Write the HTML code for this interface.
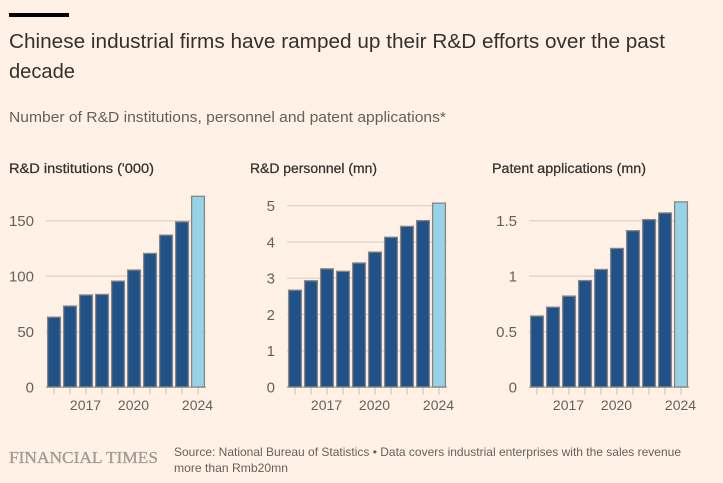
<!DOCTYPE html>
<html lang="en">
<head>
<meta charset="utf-8">
<title>Chinese industrial firms R&amp;D</title>
<style>
html,body{margin:0;padding:0;background:#fff1e5;}
svg{display:block;font-family:"Liberation Sans",sans-serif;}
</style>
</head>
<body>
<svg id="chart" xmlns="http://www.w3.org/2000/svg" width="723" height="483" viewBox="0 0 723 483">
  <rect x="0" y="0" width="723" height="483" fill="#fff1e5"/>
  <rect x="9" y="13" width="60" height="4" fill="#000"/>
  <text x="9" y="48" font-size="20" fill="#33302e" textLength="656" lengthAdjust="spacingAndGlyphs">Chinese industrial firms have ramped up their R&amp;D efforts over the past</text>
  <text x="9" y="78" font-size="20" fill="#33302e" textLength="66" lengthAdjust="spacingAndGlyphs">decade</text>
  <text x="9" y="122" font-size="15" fill="#66605c" textLength="437" lengthAdjust="spacingAndGlyphs">Number of R&amp;D institutions, personnel and patent applications*</text>
  <text x="9" y="173" font-size="13.5" fill="#33302e" stroke="#33302e" stroke-width="0.25" textLength="145" lengthAdjust="spacingAndGlyphs">R&amp;D institutions ('000)</text>
  <text x="250" y="173" font-size="13.5" fill="#33302e" stroke="#33302e" stroke-width="0.25" textLength="127" lengthAdjust="spacingAndGlyphs">R&amp;D personnel (mn)</text>
  <text x="492" y="173" font-size="13.5" fill="#33302e" stroke="#33302e" stroke-width="0.25" textLength="154" lengthAdjust="spacingAndGlyphs">Patent applications (mn)</text>
  <g id="panels"></g>
  <text x="9" y="463" font-family="'Liberation Serif',serif" font-size="17" fill="#a39c94" stroke="#a39c94" stroke-width="0.35" textLength="149" lengthAdjust="spacingAndGlyphs">FINANCIAL TIMES</text>
  <text x="174" y="456" font-size="12" fill="#66605c" textLength="507" lengthAdjust="spacingAndGlyphs">Source: National Bureau of Statistics • Data covers industrial enterprises with the sales revenue</text>
  <text x="174" y="472" font-size="12" fill="#66605c" textLength="114" lengthAdjust="spacingAndGlyphs">more than Rmb20mn</text>
</svg>
<script>
var years = [2015, 2016, 2017, 2018, 2019, 2020, 2021, 2022, 2023, 2024];
var yearLabels = [2017, 2020, 2024];
var institutions = [63, 73, 83, 83.5, 95.5, 105.5, 120.5, 137, 149, 172];
var personnel = [2.67, 2.93, 3.26, 3.19, 3.42, 3.72, 4.13, 4.43, 4.59, 5.07];
var patents = [0.64, 0.72, 0.82, 0.96, 1.06, 1.25, 1.41, 1.51, 1.57, 1.67];
var institutionTicks = [0, 50, 100, 150];
var personnelTicks = [0, 1, 2, 3, 4, 5];
var patentTicks = [0, 0.5, 1, 1.5];

var NS = 'http://www.w3.org/2000/svg';
var root = document.getElementById('panels');

function make(tag, attrs, parent) {
  var el = document.createElementNS(NS, tag);
  for (var k in attrs) el.setAttribute(k, attrs[k]);
  parent.appendChild(el);
  return el;
}

function drawPanel(key, left, pxPerUnit, values, ticks) {
  var baseY = 387;
  var width = 160;
  var step = width / years.length;
  var g = make('g', {}, root);
  
  

  function x(i) { return left + step * i; }
  function y(v) { return baseY - v * pxPerUnit; }

  ticks.forEach(function (t) {
    var line = make('line', {x1: left, x2: left + width, y1: y(t), y2: y(t), stroke: t === 0 ? '#b3aaa2' : '#e3d5ca', 'stroke-width': 1.4}, g);
    
    
    var label = make('text', {x: left - 12, y: y(t) + 5.5, 'text-anchor': 'end', 'font-size': 15, fill: '#66605c'}, g);
    
    
    label.textContent = String(t);
  });

  years.forEach(function (yr, i) {
    var cx = x(i) + step / 2;
    var tick = make('line', {x1: cx, x2: cx, y1: baseY, y2: baseY + 8, stroke: '#c9bdb3', 'stroke-width': 1}, g);
    
    

    var bar = make('rect', {x: x(i) + 1.6, y: y(values[i]), width: step - 3.2, height: baseY - y(values[i]), fill: i === years.length - 1 ? '#96d3e7' : '#1f5289', stroke: '#8a8580', 'stroke-width': 1.3}, g);
    
    

    if (yearLabels.indexOf(yr) !== -1) {
      var label = make('text', {x: cx - 0.5, y: 410, 'text-anchor': 'middle', 'font-size': 14, fill: '#66605c'}, g);
      
      
      label.textContent = String(yr);
    }
  });
}

drawPanel('institutions', 46, 166.3 / 150, institutions, institutionTicks);
drawPanel('personnel', 287, 181.3 / 5, personnel, personnelTicks);
drawPanel('patents', 529, 166.3 / 1.5, patents, patentTicks);
</script>
</body>
</html>
